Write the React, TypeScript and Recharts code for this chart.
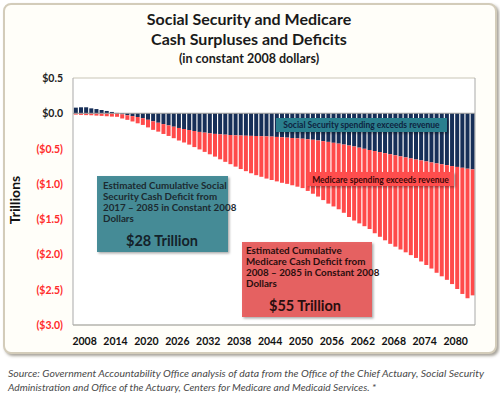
import { BarChart, Bar, XAxis, YAxis, CartesianGrid, ReferenceLine } from 'recharts';

const FONT = 'Lato, "Open Sans", sans-serif';

// one bar per year, 2008 - 2085
const years = Array.from({ length: 78 }, (_, i) => String(2008 + i));

// Social Security cash surplus (+) / deficit (-), trillions of 2008 dollars
const socialSecurity = [
  0.08, 0.085, 0.085, 0.07, 0.06, 0.047, 0.033, 0.019, 0.005, -0.014,
  -0.028, -0.04, -0.053, -0.07, -0.092, -0.114, -0.134, -0.153, -0.172, -0.19,
  -0.208, -0.223, -0.237, -0.251, -0.264, -0.274, -0.284, -0.292, -0.298, -0.303,
  -0.308, -0.312, -0.315, -0.318, -0.32, -0.322, -0.324, -0.327, -0.33, -0.335,
  -0.34, -0.345, -0.35, -0.355, -0.36, -0.368, -0.375, -0.385, -0.395, -0.405,
  -0.418, -0.43, -0.443, -0.457, -0.47, -0.487, -0.503, -0.52, -0.535, -0.55,
  -0.565, -0.58, -0.595, -0.61, -0.625, -0.64, -0.655, -0.668, -0.682, -0.696,
  -0.71, -0.722, -0.735, -0.748, -0.76, -0.772, -0.785, -0.795,
];

// Medicare cash deficit, trillions of 2008 dollars
const medicare = [
  -0.019, -0.023, -0.026, -0.028, -0.033, -0.037, -0.042, -0.047, -0.05, -0.06,
  -0.065, -0.076, -0.089, -0.095, -0.108, -0.121, -0.126, -0.14, -0.149, -0.163,
  -0.178, -0.191, -0.207, -0.228, -0.248, -0.273, -0.297, -0.322, -0.354, -0.385,
  -0.413, -0.444, -0.475, -0.502, -0.53, -0.555, -0.576, -0.598, -0.615, -0.63,
  -0.645, -0.655, -0.67, -0.685, -0.7, -0.732, -0.765, -0.795, -0.835, -0.875,
  -0.902, -0.93, -0.967, -1.013, -1.05, -1.073, -1.097, -1.12, -1.165, -1.2,
  -1.235, -1.27, -1.295, -1.32, -1.345, -1.37, -1.395, -1.432, -1.468, -1.504,
  -1.55, -1.588, -1.625, -1.672, -1.73, -1.788, -1.835, -1.785,
];

const yTicks = [0.5, 0, -0.5, -1, -1.5, -2, -2.5, -3];

const data = years.map((year, i) => ({ year, ss: socialSecurity[i], medicare: medicare[i] }));

const fmtMoney = (v: number) => (v < 0 ? `($${Math.abs(v).toFixed(1)})` : `$${v.toFixed(1)}`);

const YTick = ({ x, y, payload }: any) => (
  <text
    x={x}
    y={y}
    dy={4}
    textAnchor="end"
    fontFamily={FONT}
    fontSize={10.5}
    fontWeight={700}
    fill={payload.value < 0 ? '#ff2a2a' : '#222'}
  >
    {fmtMoney(payload.value)}
  </text>
);

export default function App() {
  return (
    <div style={{ position: 'absolute', left: 0, top: 0, width: 500, height: 394, background: '#fff', fontFamily: FONT }}>
      <div
        style={{
          position: 'absolute', left: 3, top: 3, width: 490, height: 347,
          border: '2px solid #d3ccba', borderRadius: 8, background: '#fffef9',
          boxShadow: '2px 2px 3px rgba(60,50,30,0.45)',
        }}
      />
      <div style={{ position: 'absolute', left: 0, top: 0 }}>
        <BarChart
          width={500}
          height={394}
          data={data}
          stackOffset="sign"
          barCategoryGap="16%"
          margin={{ top: 78, right: 0, bottom: 39, left: 0 }}
        >
          <CartesianGrid vertical={false} stroke="#c9c6b6" fill="#fff" />
          <XAxis
            dataKey="year"
            interval={5}
            tickLine={false}
            axisLine={{ stroke: '#a9a9a9' }}
            height={30}
            tickMargin={7}
            dx={9}
            tick={{ fontFamily: FONT, fontSize: 10.5, fontWeight: 700, fill: '#111' }}
          />
          <YAxis
            yAxisId="l"
            domain={[-3, 0.5]}
            ticks={yTicks}
            width={73}
            tickLine={false}
            axisLine={{ stroke: '#a9a9a9' }}
            tickMargin={4}
            tick={<YTick />}
          />
          <YAxis yAxisId="r" orientation="right" domain={[-3, 0.5]} width={25} tick={false} tickLine={false} axisLine={{ stroke: '#a9a9a9' }} />
          <ReferenceLine yAxisId="l" y={0} stroke="#9a9a9a" />
          <Bar yAxisId="l" dataKey="ss" stackId="a" fill="#172f58" isAnimationActive={false} />
          <Bar yAxisId="l" dataKey="medicare" stackId="a" fill="#ff4a4a" isAnimationActive={false} />
        </BarChart>
      </div>
      <svg width={500} height={394} style={{ position: 'absolute', left: 0, top: 0, pointerEvents: 'none' }} fontFamily={FONT}>
        <defs>
          <filter id="sh" x="-10%" y="-10%" width="130%" height="140%">
            <feDropShadow dx="1.5" dy="1.5" stdDeviation="1" floodColor="#000" floodOpacity="0.35" />
          </filter>
        </defs>
        <g fontWeight={700} fill="#1a1a1a" textAnchor="middle">
          <text x={249} y={25} fontSize={16}>Social Security and Medicare</text>
          <text x={249} y={45} fontSize={16}>Cash Surpluses and Deficits</text>
          <text x={249} y={63} fontSize={12.5}>(in constant 2008 dollars)</text>
        </g>
        <text x={20} y={200} fontSize={14} fontWeight={700} fill="#111" textAnchor="middle" transform="rotate(-90 20 200)">Trillions</text>

        <rect x={276} y={118} width={171} height={14} fill="#2b7f8e" filter="url(#sh)" />
        <text x={361.5} y={128} fontSize={8.5} fontWeight={700} fill="#0e2440" textAnchor="middle">Social Security spending exceeds  revenue</text>

        <rect x={307} y={172} width={147} height={14} fill="#ff4d4d" filter="url(#sh)" />
        <text x={380.5} y={182.5} fontSize={8.5} fontWeight={700} fill="#3a0808" textAnchor="middle">Medicare spending  exceeds  revenue</text>

        <rect x={97} y={176} width={131} height={76} fill="#3f8893" fillOpacity={0.95} filter="url(#sh)" />
        <g fontSize={9.8} fontWeight={700} fill="#1c2a30">
          <text x={103} y={189}>Estimated Cumulative Social</text>
          <text x={103} y={200}>Security Cash Deficit from</text>
          <text x={103} y={211}>2017 – 2085 in Constant 2008</text>
          <text x={103} y={222}>Dollars</text>
        </g>
        <text x={162} y={246} fontSize={14.5} fontWeight={700} fill="#14222a" textAnchor="middle">$28 Trillion</text>

        <rect x={242} y={242} width={130} height={75} fill="#e65d5d" fillOpacity={0.95} filter="url(#sh)" />
        <g fontSize={9.8} fontWeight={700} fill="#2a0e0e">
          <text x={246} y={254}>Estimated Cumulative</text>
          <text x={246} y={265}>Medicare Cash Deficit from</text>
          <text x={246} y={276}>2008 – 2085 in Constant 2008</text>
          <text x={246} y={287}>Dollars</text>
        </g>
        <text x={305} y={311} fontSize={14.5} fontWeight={700} fill="#2a0e0e" textAnchor="middle">$55 Trillion</text>

        <g fontSize={10.2} fontStyle="italic" fill="#4a4a4a">
          <text x={8} y={377} textLength={476} lengthAdjust="spacingAndGlyphs">Source: Government Accountability Office analysis of data from the Office of the Chief Actuary, Social Security</text>
          <text x={8} y={391}>Administration and Office of the Actuary, Centers for Medicare and Medicaid Services. *</text>
        </g>
      </svg>
    </div>
  );
}
